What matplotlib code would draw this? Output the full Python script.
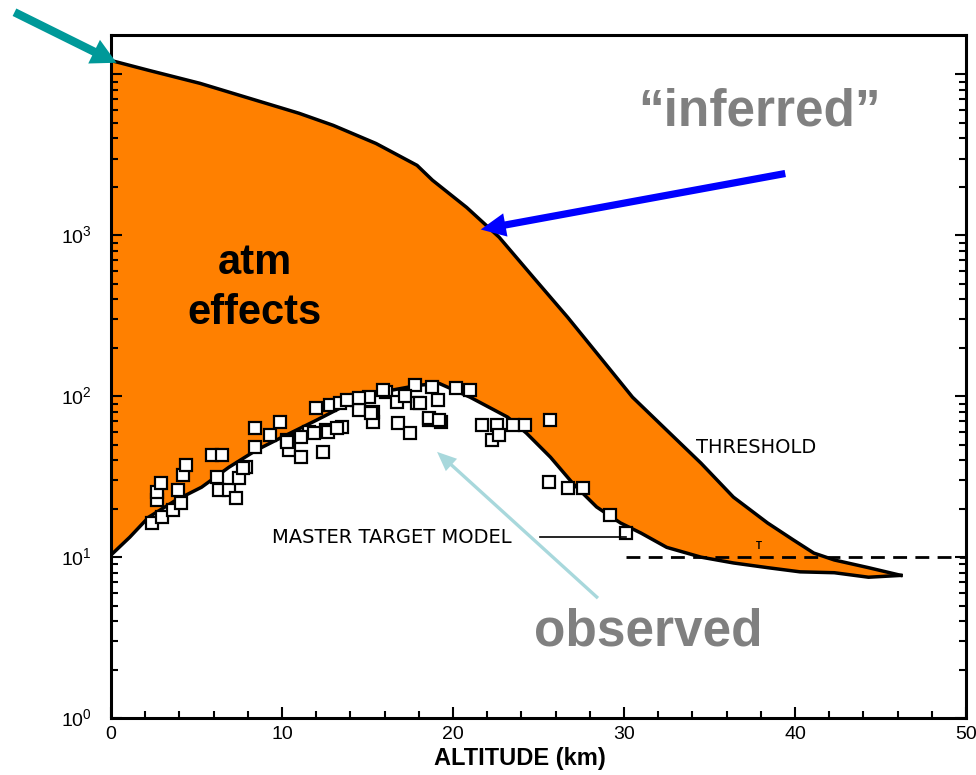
import numpy as np
import matplotlib
matplotlib.use('Agg')
import matplotlib.pyplot as plt
from matplotlib.ticker import MultipleLocator, LogLocator, NullFormatter

plt.rcParams['font.family'] = ['Liberation Sans', 'DejaVu Sans']
plt.rcParams['mathtext.fontset'] = 'custom'
plt.rcParams['mathtext.rm'] = 'Liberation Sans'

# threshold curve ("inferred"), altitude km vs value
thr_alt = [0, 2.2, 5.2, 8.1, 11.0, 13.0, 15.5, 17.9, 18.8, 20.8, 22.7, 24.7,
           26.7, 28.6, 30.5, 32.5, 34.5, 36.4, 38.4, 39.9, 41.1, 42.3, 44.3, 46.2]
thr_val = [12200, 10600, 8800, 7100, 5730, 4820, 3720, 2720, 2200, 1490, 973, 548,
           310, 175, 98.6, 61.5, 38.4, 23.6, 16.3, 12.8, 10.6, 9.6, 8.6, 7.7]

# master target model curve
mod_alt = [0, 1.1, 2.2, 3.8, 5.3, 6.9, 8.5, 10.0, 12.0, 14.0, 16.0, 18.0, 19.2,
           21.0, 23.2, 24.3, 25.7, 27.0, 28.4, 29.8, 31.0, 32.5, 34.5, 36.4,
           38.4, 40.3, 42.3, 44.3, 46.2]
mod_val = [10.3, 13.3, 17.7, 22.6, 27.2, 36.2, 46.2, 55.6, 70.8, 91, 107, 117, 120,
           98.6, 74.1, 58.9, 41.8, 28.8, 20.5, 16.3, 14.1, 11.5, 10.0, 9.2,
           8.6, 8.1, 8.0, 7.5, 7.7]

# observed points
obs_alt = [2.4, 3.0, 2.7, 2.7, 2.9, 3.6, 3.9, 4.1, 4.2, 4.4, 5.9, 6.5, 6.2, 6.3, 6.9,
           7.3, 7.5, 7.9, 8.4, 8.4, 9.3, 9.9, 10.3, 10.4, 11.1, 11.6, 12.4, 12.6,
           13.5, 12.0, 12.8, 13.4, 14.4, 15.1, 15.3, 15.3, 16.1, 16.7, 16.8, 17.5,
           17.9, 17.8, 18.8, 18.6, 19.3, 19.1, 20.2, 21.0, 21.7, 22.3, 22.6, 23.5,
           24.2, 25.7, 25.6, 26.7, 27.6, 29.2, 30.1, 22.7, 7.7, 17.2, 14.5, 11.1,
           10.3, 12.7, 13.2, 11.9, 15.9, 13.8, 14.5, 15.2, 18.1, 18.6, 19.2]
obs_val = [16.3, 17.7, 22.6, 25.3, 28.8, 19.6, 26.1, 21.6, 32.3, 37.3, 43.0, 43.0,
           31.4, 26.1, 26.1, 23.2, 31.0, 36.2, 48.2, 63.3, 57.3, 69.0, 53.3, 46.2,
           41.8, 59.7, 44.9, 61.5, 64.2, 84.2, 87.9, 90.5, 94.5, 98.6, 69.0, 79.6,
           106, 91.8, 68.0, 58.9, 90.5, 117, 114, 71.0, 69.0, 94.5, 112, 109, 66.1,
           53.3, 66.1, 66.1, 66.1, 71.0, 29.2, 26.8, 26.8, 18.2, 14.1, 57.3, 35.7,
           101, 81.9, 55.6, 51.8, 59.7, 63.3, 58.9, 109, 94.5, 97.2, 78.4, 90.5,
           73.0, 71.0]

fig = plt.figure(figsize=(9.76, 7.75), dpi=100)
ax = fig.add_axes([0.1137, 0.0735, 0.876, 0.881])

# orange region between threshold and model
poly_x = np.concatenate([thr_alt, mod_alt[::-1]])
poly_y = np.concatenate([thr_val, mod_val[::-1]])
ax.fill(poly_x, poly_y, color='#ff8000', lw=0, zorder=1)
ax.plot(thr_alt, thr_val, color='black', lw=2.5, zorder=3)
ax.plot(mod_alt, mod_val, color='black', lw=2.5, zorder=3)
ax.plot(obs_alt, obs_val, 's', ms=8, mfc='white', mec='black', mew=1.6, zorder=4)

# dashed level line
ax.plot([30.1, 50], [10, 10], color='black', lw=2, ls=(0, (5, 3)), zorder=2)

ax.set_yscale('log')
ax.set_xlim(0, 50)
ax.set_ylim(1, 1.75e4)
ax.set_xticks([0, 10, 20, 30, 40, 50])
ax.xaxis.set_minor_locator(MultipleLocator(2))
ax.set_yticks([1, 10, 100, 1000, 10000],
              labels=['$10^0$', '$10^1$', '$10^2$', '$10^3$', ''])
ax.yaxis.set_minor_locator(LogLocator(base=10, subs=np.arange(2, 10)))
ax.yaxis.set_minor_formatter(NullFormatter())
ax.tick_params(which='both', direction='in', right=True, top=False, width=1.5)
ax.tick_params(which='major', length=8, labelsize=14)
ax.tick_params(axis='y', which='major', pad=14)
ax.tick_params(axis='x', which='major', pad=6)
ax.tick_params(which='minor', length=5)
for s in ax.spines.values():
    s.set_linewidth(2.2)

ax.set_xlabel('ALTITUDE (km)', fontsize=17, fontweight='bold')
ax.xaxis.set_label_coords(0.478, -0.043)

lbl_font = ['DejaVu Sans', 'Liberation Sans']
ax.text(34.2, 48, 'THRESHOLD', fontsize=14, va='center', ha='left',
        family=lbl_font, zorder=5)
ax.text(9.4, 13.3, 'MASTER TARGET MODEL', fontsize=14, va='center', ha='left',
        family=lbl_font, zorder=5)
ax.plot([25.1, 30.1], [13.3, 13.3], color='black', lw=1.2, zorder=5)
ax.text(37.9, 11.8, 'T', fontsize=7, fontweight='bold', ha='center', va='center', zorder=5)

ax.text(8.4, 470, 'atm\neffects', fontsize=30, fontweight='bold', ha='center',
        va='center', linespacing=1.3, zorder=6)

# overlay annotations in figure pixels
fig.text(760 / 976, 1 - 112 / 775, '\u201cinferred\u201d', fontsize=37,
         fontweight='bold', color='#808080', ha='center', va='center', zorder=10)
fig.text(648 / 976, 1 - 632 / 775, 'observed', fontsize=37, fontweight='bold',
         color='#808080', ha='center', va='center', zorder=10)

ax.annotate('', xy=(119, 775 - 64), xytext=(12, 775 - 11),
            xycoords='figure pixels', textcoords='figure pixels',
            arrowprops=dict(arrowstyle='simple,head_length=0.9,head_width=0.95,tail_width=0.3',
                            mutation_scale=20, color='#009999', lw=0),
            annotation_clip=False, zorder=9)
ax.annotate('', xy=(478, 775 - 230), xytext=(788, 775 - 173),
            xycoords='figure pixels', textcoords='figure pixels',
            arrowprops=dict(arrowstyle='simple,head_length=0.9,head_width=0.85,tail_width=0.26',
                            mutation_scale=20, color='#0000ff', lw=0),
            annotation_clip=False, zorder=9)
ax.annotate('', xy=(435, 775 - 450), xytext=(600, 775 - 600),
            xycoords='figure pixels', textcoords='figure pixels',
            arrowprops=dict(arrowstyle='simple,head_length=0.7,head_width=0.6,tail_width=0.12',
                            mutation_scale=20, color='#a8d8dc', lw=0),
            annotation_clip=False, zorder=8)

fig.savefig('out.png', dpi=100)
